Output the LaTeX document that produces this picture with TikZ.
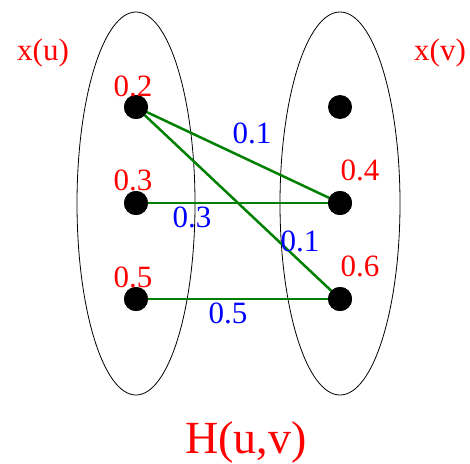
\documentclass[tikz,border=0pt]{standalone}
\usepackage{fontspec}
\setmainfont{Liberation Serif}
\begin{document}
\begin{tikzpicture}[x=1pt,y=-1pt,
  dot/.style={circle,fill=black,inner sep=0pt,minimum size=24pt},
  setshape/.style={draw=black,line width=0.8pt},
  edge/.style={draw=green!50!black,line width=2.5pt},
  val/.style={text=red,inner sep=0pt,font=\fontsize{31}{36}\selectfont},
  wt/.style={text=blue,inner sep=0pt,font=\fontsize{31}{36}\selectfont},
  setlab/.style={text=red,inner sep=0pt,anchor=base,font=\fontsize{31}{36}\selectfont}]
\useasboundingbox (0,0) rectangle (470,463);
\draw[setshape] (136,203.5) ellipse [x radius=59, y radius=191.5];
\draw[setshape] (340,203.5) ellipse [x radius=60, y radius=191.5];
\node[dot] (u1) at (136,107) {};
\node[dot] (u2) at (136,203) {};
\node[dot] (u3) at (136,299) {};
\node[dot] (v1) at (340,107) {};
\node[dot] (v2) at (340,203) {};
\node[dot] (v3) at (340,299) {};
\draw[edge] (u1.center) -- (v2.center);
\draw[edge] (u1.center) -- (v3.center);
\draw[edge] (u2.center) -- (v2.center);
\draw[edge] (u3.center) -- (v3.center);
\node[dot] at (u1) {};
\node[dot] at (u2) {};
\node[dot] at (u3) {};
\node[dot] at (v2) {};
\node[dot] at (v3) {};
\node[val] (lu1) at (133,86) {0.2};
\node[val] (lu2) at (133,180) {0.3};
\node[val] (lu3) at (133,277) {0.5};
\node[val] (lv2) at (360,170) {0.4};
\node[val] (lv3) at (360,266) {0.6};
\node[wt] (w1) at (252,133) {0.1};
\node[wt] (w2) at (192,217) {0.3};
\node[wt] (w3) at (300,241) {0.1};
\node[wt] (w4) at (228,313) {0.5};
\node[setlab] (xu) at (43,60) {x(u)};
\node[setlab] (xv) at (440,60) {x(v)};
\node[text=red,inner sep=0pt,anchor=base,font=\fontsize{46}{52}\selectfont] (H) at (246,453) {H(u,v)};
\end{tikzpicture}
\end{document}
